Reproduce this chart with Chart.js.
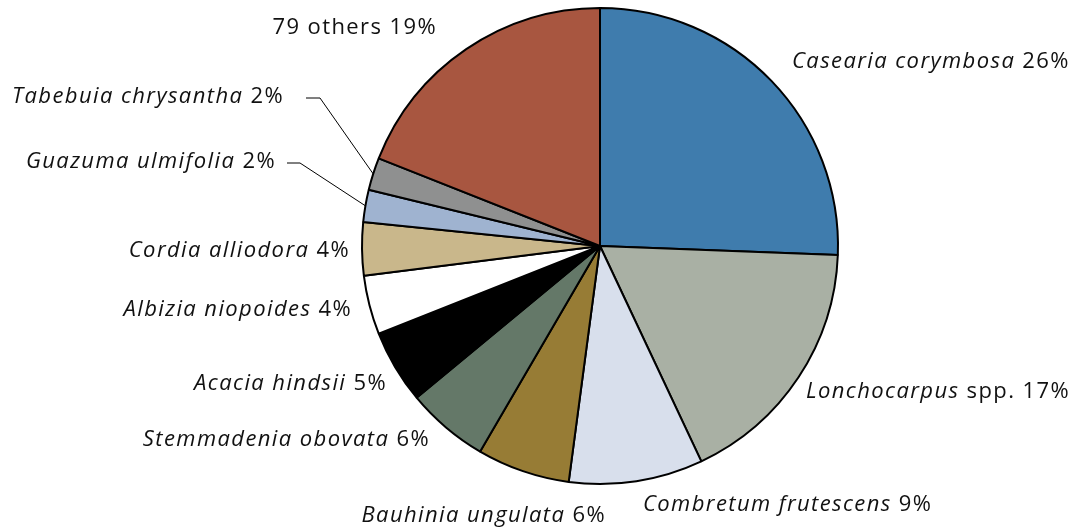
<!DOCTYPE html>
<html>
<head>
<meta charset="utf-8">
<script src="https://cdn.jsdelivr.net/npm/chart.js@4.4.1/dist/chart.umd.min.js"></script>
<style>
html, body { margin: 0; padding: 0; background: #fff; }
#wrap { width: 1086px; height: 528px; }
</style>
</head>
<body>
<div id="wrap"><canvas id="myChart"></canvas></div>
<script>
// Datos del gráfico (sentido horario desde las 12)
const especies = ['Casearia corymbosa', 'Lonchocarpus', 'Combretum frutescens', 'Bauhinia ungulata',
    'Stemmadenia obovata', 'Acacia hindsii', 'Albizia niopoides', 'Cordia alliodora',
    'Guazuma ulmifolia', 'Tabebuia chrysantha', '79 others'];
const sufijos = ['', ' spp.', '', '', '', '', '', '', '', '', ''];
const cursiva = [true, true, true, true, true, true, true, true, true, true, false];
const porcentajes = [25.6, 17.4, 9.1, 6.3, 5.6, 5.0, 4.0, 3.6, 2.2, 2.2, 19.0];
const colores = ['#3f7cad', '#a9b0a4', '#d8dfec', '#977c35', '#647868', '#000000',
    '#ffffff', '#c9b78b', '#9fb3d0', '#8f9090', '#a85640'];

// Posición de las etiquetas respecto al centro de la torta
const posEtiquetas = [
    { dx: 192, dy: -184, align: 'left' },
    { dx: 206, dy: 146, align: 'left' },
    { dx: 43, dy: 259, align: 'left' },
    { dx: 6, dy: 270, align: 'right' },
    { dx: -170, dy: 194, align: 'right' },
    { dx: -213, dy: 138, align: 'right' },
    { dx: -248, dy: 64, align: 'right' },
    { dx: -250, dy: 5, align: 'right' },
    { dx: -324, dy: -84, align: 'right', guia: [11, 24] },
    { dx: -316, dy: -149, align: 'right', guia: [22, 36] },
    { dx: -163, dy: -218, align: 'right' }
];

function fuente(it) {
    return (it ? 'italic ' : '') + '22px "Open Sans", sans-serif';
}

const etiquetasPlugin = {
    id: 'etiquetas',
    afterDatasetsDraw(chart) {
        const ctx = chart.ctx;
        const arcs = chart.getDatasetMeta(0).data;
        ctx.save();
        ctx.textBaseline = 'middle';
        ctx.textAlign = 'left';
        ctx.letterSpacing = '1.4px';
        ctx.fillStyle = '#111';
        ctx.strokeStyle = '#000';
        ctx.lineWidth = 1;
        arcs.forEach((arc, i) => {
            const cx = arc.x, cy = arc.y;
            const pos = posEtiquetas[i];
            const partes = [
                [especies[i], cursiva[i]],
                [sufijos[i], false],
                [' ' + Math.round(porcentajes[i]) + '%', false]
            ];
            let ancho = 0;
            partes.forEach(p => { ctx.font = fuente(p[1]); ancho += ctx.measureText(p[0]).width; });
            let x = cx + pos.dx;
            if (pos.align === 'right') x -= ancho;
            const y = cy + pos.dy;
            partes.forEach(p => {
                ctx.font = fuente(p[1]);
                ctx.fillText(p[0], x, y);
                x += ctx.measureText(p[0]).width;
            });
            if (pos.guia) {
                const medio = (arc.startAngle + arc.endAngle) / 2;
                const px = cx + Math.cos(medio) * arc.outerRadius;
                const py = cy + Math.sin(medio) * arc.outerRadius;
                ctx.beginPath();
                ctx.moveTo(cx + pos.dx + pos.guia[0], y + 1);
                ctx.lineTo(cx + pos.dx + pos.guia[1], y + 1);
                ctx.lineTo(px, py);
                ctx.stroke();
            }
        });
        ctx.restore();
    }
};

const ctx = document.getElementById('myChart').getContext('2d');
const myChart = new Chart(ctx, {
    type: 'pie',
    data: {
        labels: especies,
        datasets: [{
            data: porcentajes,
            backgroundColor: colores,
            borderColor: '#000',
            borderWidth: 2
        }]
    },
    options: {
        responsive: true,
        maintainAspectRatio: false,
        animation: false,
        layout: {
            padding: { top: 7, bottom: 43, left: 361, right: 247 }
        },
        plugins: {
            legend: { display: false },
            tooltip: { enabled: false }
        }
    },
    plugins: [etiquetasPlugin]
});
</script>
</body>
</html>
